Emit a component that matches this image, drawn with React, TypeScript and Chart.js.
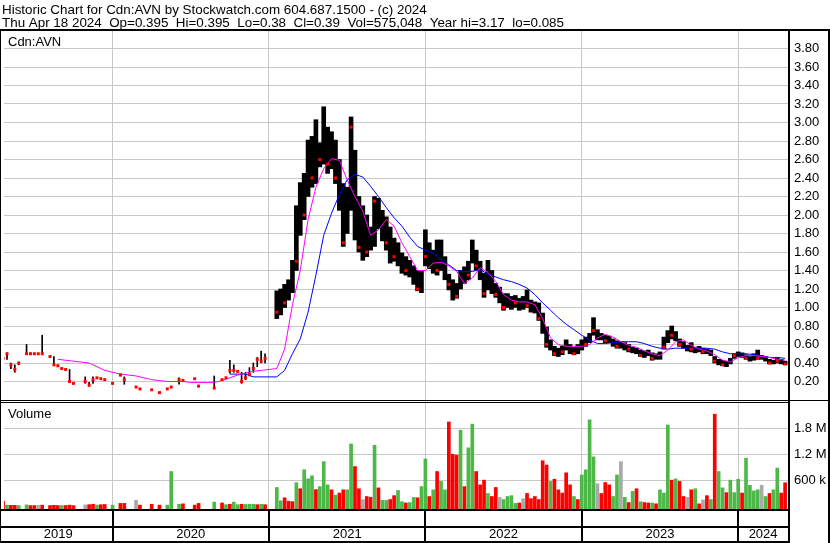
import React, { useEffect, useRef } from 'react';
import { Chart, registerables } from 'chart.js';

Chart.register(...registerables);

// ---------- texts ----------
const TITLE_LINE_1 = 'Historic Chart for Cdn:AVN by Stockwatch.com 604.687.1500 - (c) 2024';
const TITLE_LINE_2 = 'Thu Apr 18 2024  Op=0.395  Hi=0.395  Lo=0.38  Cl=0.39  Vol=575,048  Year hi=3.17  lo=0.085';
const SYMBOL_LABEL = 'Cdn:AVN';
const VOLUME_LABEL = 'Volume';

// ---------- time axis ----------
const X_MIN = 2019.3058;
const X_MAX = 2024.3185;
const FIRST_BAR_YEAR = 2019.3;
const BAR_STEP_YEARS = 0.025;
const MA_STEP_YEARS = 0.05;
const YEAR_BOUNDARIES = [2020, 2021, 2022, 2023, 2024];
const YEAR_LABELS = ['2019', '2020', '2021', '2022', '2023', '2024'];
// bars before this index are thinly traded (single-day ticks), after it the trading is dense
const DENSE_TRADING_FROM = 70;

// ---------- value axes ----------
const PRICE_TICKS = [0.2, 0.4, 0.6, 0.8, 1.0, 1.2, 1.4, 1.6, 1.8, 2.0, 2.2, 2.4, 2.6, 2.8, 3.0, 3.2, 3.4, 3.6, 3.8];
const VOLUME_TICKS_K = [600, 1200, 1800];

// ---------- price bars (high / low / close tick) ----------
const PRICE_HIGH = [
  0.50, 0.51, 0.40, 0.38, 0.41, null, 0.60, 0.51, 0.50, 0.50,
  0.70, null, 0.47, 0.47, 0.38, 0.34, 0.33, 0.33, 0.18, null,
  null, 0.25, 0.19, 0.25, 0.24, 0.23, 0.22, null, 0.18, null,
  0.28, 0.25, null, null, 0.14, 0.12, null, null, 0.11, null,
  0.08, null, 0.12, 0.14, null, 0.24, 0.22, null, null, 0.23,
  0.16, null, null, null, 0.26, null, 0.22, 0.24, 0.43, 0.38,
  0.32, 0.30, 0.30, 0.35, 0.40, 0.46, 0.53, 0.50, null, null,
  1.18, 1.20, 1.25, 1.30, 1.51, 2.10, 2.35, 2.45, 2.81, 2.85,
  3.03, 2.78, 3.17, 2.95, 2.90, 2.81, 2.60, 2.34, 2.30, 3.06,
  2.70, 2.20, 2.10, 2.00, 1.87, 2.20, 2.18, 2.05, 1.98, 1.87,
  1.75, 1.70, 1.59, 1.55, 1.51, 1.45, 1.40, 1.40, 1.84, 1.70,
  1.62, 1.73, 1.73, 1.55, 1.36, 1.30, 1.26, 1.40, 1.44, 1.50,
  1.73, 1.62, 1.50, 1.37, 1.51, 1.40, 1.26, 1.22, 1.15, 1.15,
  1.12, 1.13, 1.10, 1.12, 1.19, 1.08, 1.06, 1.05, 0.94, 0.79,
  0.65, 0.58, 0.56, 0.58, 0.65, 0.60, 0.57, 0.60, 0.65, 0.68,
  0.72, 0.89, 0.76, 0.72, 0.70, 0.69, 0.66, 0.64, 0.63, 0.62,
  0.60, 0.57, 0.56, 0.54, 0.53, 0.54, 0.51, 0.50, 0.52, 0.68,
  0.75, 0.80, 0.74, 0.66, 0.63, 0.59, 0.62, 0.57, 0.58, 0.56,
  0.55, 0.54, 0.47, 0.44, 0.43, 0.42, 0.45, 0.50, 0.52, 0.51,
  0.49, 0.47, 0.50, 0.54, 0.48, 0.47, 0.44, 0.43, 0.46, 0.44,
  0.42,
];

const PRICE_LOW = [
  0.40, 0.44, 0.34, 0.30, 0.38, null, 0.50, 0.50, 0.50, 0.50,
  0.50, null, 0.47, 0.38, 0.37, 0.34, 0.33, 0.19, 0.18, null,
  null, 0.18, 0.15, 0.18, 0.24, 0.23, 0.22, null, 0.18, null,
  0.26, 0.17, null, null, 0.14, 0.12, null, null, 0.11, null,
  0.08, null, 0.12, 0.14, null, 0.17, 0.20, null, null, 0.23,
  0.15, null, null, null, 0.12, null, 0.22, 0.24, 0.29, 0.30,
  0.30, 0.18, 0.22, 0.26, 0.30, 0.36, 0.40, 0.40, null, null,
  0.88, 0.92, 1.00, 1.08, 1.16, 1.40, 1.78, 1.95, 2.20, 2.30,
  2.34, 2.52, 2.55, 2.45, 2.50, 2.34, 2.05, 1.66, 1.80, 2.05,
  1.73, 1.60, 1.51, 1.55, 1.62, 1.66, 1.85, 1.72, 1.62, 1.48,
  1.50, 1.45, 1.37, 1.35, 1.33, 1.25, 1.18, 1.16, 1.45, 1.42,
  1.37, 1.35, 1.40, 1.30, 1.19, 1.08, 1.10, 1.20, 1.26, 1.30,
  1.48, 1.40, 1.30, 1.11, 1.19, 1.15, 1.11, 1.05, 0.97, 1.00,
  0.98, 1.00, 0.97, 0.98, 1.00, 0.95, 0.94, 0.86, 0.72, 0.57,
  0.54, 0.48, 0.47, 0.49, 0.54, 0.50, 0.49, 0.50, 0.54, 0.58,
  0.62, 0.70, 0.65, 0.65, 0.62, 0.62, 0.58, 0.56, 0.56, 0.54,
  0.52, 0.51, 0.50, 0.47, 0.46, 0.48, 0.43, 0.44, 0.44, 0.55,
  0.62, 0.66, 0.64, 0.58, 0.56, 0.53, 0.52, 0.51, 0.52, 0.50,
  0.50, 0.48, 0.40, 0.38, 0.37, 0.36, 0.39, 0.45, 0.47, 0.46,
  0.44, 0.42, 0.43, 0.44, 0.44, 0.42, 0.39, 0.39, 0.40, 0.39,
  0.38,
];

const PRICE_CLOSE = [
  0.45, 0.50, 0.38, 0.33, 0.40, null, 0.50, 0.50, 0.50, 0.50,
  0.50, null, 0.47, 0.38, 0.37, 0.34, 0.33, 0.20, 0.18, null,
  null, 0.20, 0.16, 0.22, 0.24, 0.23, 0.22, null, 0.18, null,
  0.27, 0.22, null, null, 0.14, 0.12, null, null, 0.11, null,
  0.08, null, 0.12, 0.14, null, 0.22, 0.21, null, null, 0.23,
  0.15, null, null, null, 0.13, null, 0.22, 0.24, 0.32, 0.32,
  0.31, 0.20, 0.24, 0.28, 0.34, 0.44, 0.42, 0.45, null, null,
  0.95, null, 1.05, null, null, 1.50, null, 2.00, null, 2.40,
  null, 2.60, null, 2.55, null, 2.40, null, 1.70, null, 2.95,
  null, 1.65, null, 1.60, null, 2.15, null, null, 1.70, null,
  1.55, null, null, 1.40, null, null, 1.20, null, 1.55, null,
  null, 1.40, null, null, 1.25, null, 1.12, null, null, 1.35,
  null, 1.45, null, 1.15, null, null, 1.14, null, 1.00, null,
  null, 1.05, null, null, 1.02, null, null, 0.88, null, 0.60,
  null, 0.50, null, 0.52, null, null, 0.50, null, null, 0.60,
  null, 0.75, null, null, 0.64, null, null, 0.58, null, null,
  0.55, null, null, 0.48, null, null, 0.45, null, null, 0.57,
  null, 0.70, null, 0.60, null, null, 0.55, null, null, 0.52,
  null, null, 0.42, null, 0.38, null, null, 0.48, null, null,
  0.45, null, null, 0.45, null, null, 0.40, null, 0.42, null,
  0.39,
];

// ---------- volume (thousands of shares) and direction ----------
const VOLUME_K = [
  106, 20, 15, 15, 10, null, 25, 10, 10, 15,
  20, null, 10, 15, 10, 10, 10, 20, 10, null,
  null, 25, 30, 40, 20, 30, 35, null, 20, null,
  60, 60, null, null, 130, 20, null, null, 40, null,
  20, null, 20, 800, null, 40, 50, null, null, 20,
  60, null, null, null, 90, null, 70, 30, 40, 90,
  30, 40, 35, 40, 40, 30, 40, 30, null, null,
  430, 120, 190, 110, 100, 540, 400, 840, 630, 700,
  380, 450, 1030, 490, 375, 250, 300, 375, 375, 1440,
  915, 400, 145, 220, 200, 1410, 420, 130, 130, 150,
  240, 360, 100, 70, 80, 200, 190, 450, 1090, 220,
  375, 800, 570, 375, 1950, 1200, 1180, 1760, 450, 1350,
  1900, 800, 490, 600, 290, 220, 430, 200, 150, 220,
  240, 60, 70, 170, 290, 170, 220, 150, 1050, 950,
  570, 620, 375, 300, 770, 490, 220, 150, 720, 840,
  2000, 1140, 515, 290, 545, 490, 220, 720, 1030, 200,
  80, 340, 400, 100, 80, 70, 70, 50, 375, 300,
  1880, 600, 630, 570, 220, 200, 375, 400, 50, 140,
  240, 150, 2130, 800, 420, 310, 600, 310, 620, 300,
  1110, 480, 350, 375, 480, 220, 290, 375, 880, 300,
  540,
];

// g = up day, r = down day, n = unchanged
const VOLUME_DIR = [
  'r', 'g', 'r', 'r', 'g', null, 'g', 'r', 'r', 'n',
  'r', null, 'r', 'r', 'r', 'g', 'r', 'r', 'r', null,
  null, 'n', 'r', 'r', 'g', 'r', 'r', null, 'g', null,
  'r', 'r', null, null, 'n', 'r', null, null, 'r', null,
  'r', null, 'g', 'g', null, 'g', 'r', null, null, 'r',
  'r', null, null, null, 'g', null, 'r', 'g', 'r', 'g',
  'g', 'r', 'g', 'g', 'g', 'r', 'g', 'r', null, null,
  'g', 'g', 'r', 'r', 'r', 'g', 'r', 'g', 'g', 'g',
  'r', 'g', 'g', 'g', 'r', 'g', 'r', 'r', 'g', 'g',
  'r', 'r', 'n', 'r', 'r', 'g', 'r', 'g', 'g', 'r',
  'r', 'g', 'g', 'r', 'g', 'g', 'r', 'g', 'g', 'r',
  'g', 'r', 'g', 'g', 'r', 'r', 'r', 'g', 'r', 'g',
  'g', 'r', 'r', 'r', 'g', 'r', 'r', 'n', 'g', 'g',
  'g', 'g', 'r', 'n', 'r', 'r', 'r', 'r', 'r', 'r',
  'g', 'r', 'r', 'r', 'r', 'r', 'g', 'r', 'g', 'g',
  'g', 'g', 'n', 'r', 'r', 'r', 'g', 'g', 'n', 'g',
  'r', 'g', 'r', 'g', 'r', 'r', 'g', 'r', 'g', 'g',
  'g', 'r', 'g', 'r', 'r', 'n', 'r', 'g', 'r', 'n',
  'r', 'g', 'r', 'g', 'g', 'r', 'g', 'g', 'g', 'r',
  'g', 'g', 'g', 'g', 'n', 'g', 'r', 'g', 'g', 'r',
  'r',
];

// ---------- moving averages (sampled every MA_STEP_YEARS) ----------
const MA_SHORT = [
  null, null, null, null, null, null, null, 0.44, 0.43, 0.42,
  0.41, 0.40, 0.36, 0.32, 0.30, 0.28, 0.27, 0.26, 0.24, 0.22,
  0.21, 0.20, 0.20, 0.20, 0.19, 0.19, 0.19, 0.19, 0.21, 0.24,
  0.27, 0.29, 0.31, 0.32, 0.33, 0.34, 0.55, 1.03, 1.40, 1.95,
  2.30, 2.50, 2.61, 2.59, 2.38, 2.20, 2.04, 1.78, 1.84, 1.95,
  1.88, 1.70, 1.55, 1.40, 1.40, 1.48, 1.49, 1.45, 1.39, 1.26,
  1.32, 1.43, 1.38, 1.28, 1.14, 1.08, 1.06, 1.06, 1.03, 0.88,
  0.67, 0.60, 0.58, 0.58, 0.58, 0.60, 0.67, 0.71, 0.68, 0.63,
  0.59, 0.57, 0.53, 0.50, 0.48, 0.54, 0.63, 0.65, 0.59, 0.55,
  0.53, 0.49, 0.43, 0.41, 0.46, 0.48, 0.48, 0.47, 0.46, 0.44,
  0.43,
];

const MA_LONG = [
  null, null, null, null, null, null, null, null, null, null,
  null, null, null, null, null, null, null, null, null, null,
  null, null, null, null, null, null, null, null, null, 0.28,
  0.28, 0.28, 0.25, 0.25, 0.25, 0.25, 0.32, 0.50, 0.66, 0.95,
  1.35, 1.78, 2.02, 2.22, 2.38, 2.44, 2.41, 2.31, 2.20, 2.08,
  1.97, 1.88, 1.76, 1.66, 1.62, 1.59, 1.52, 1.46, 1.40, 1.39,
  1.39, 1.41, 1.36, 1.33, 1.30, 1.28, 1.25, 1.21, 1.14, 1.05,
  0.97, 0.89, 0.82, 0.76, 0.70, 0.65, 0.61, 0.61, 0.62, 0.63,
  0.63, 0.63, 0.61, 0.58, 0.56, 0.55, 0.56, 0.56, 0.56, 0.56,
  0.56, 0.55, 0.52, 0.50, 0.50, 0.50, 0.49, 0.48, 0.46, 0.46,
  0.45,
];

// ---------- styling ----------
const FONT_FAMILY = '"Liberation Sans", Arial, Helvetica, sans-serif';
const FONT = `13px ${FONT_FAMILY}`;
const HEADER_FONT = `13.4px ${FONT_FAMILY}`;
const GRID_COLOR = '#c8c8c8';
const DIR_COLORS: Record<string, string> = { g: '#4db848', r: '#ff0000', n: '#a9a9a9' };
const VOLUME_MIN_K = -70;
const VOLUME_MAX_K = 2460;

const barYear = (i: number) => FIRST_BAR_YEAR + i * BAR_STEP_YEARS;
const maYear = (j: number) => FIRST_BAR_YEAR + j * MA_STEP_YEARS;

function buildData() {
  const thinBars: { x: number; y: [number, number] }[] = [];
  const denseBars: { x: number; y: [number, number] }[] = [];
  PRICE_HIGH.forEach((h, i) => {
    const l = PRICE_LOW[i];
    if (h == null || l == null) return;
    (i < DENSE_TRADING_FROM ? thinBars : denseBars).push({ x: barYear(i), y: [l, h] });
  });
  const closes: { x: number; y: number }[] = [];
  PRICE_CLOSE.forEach((c, i) => {
    if (c != null) closes.push({ x: barYear(i), y: c });
  });
  const vol: { x: number; y: number }[] = [];
  const volColors: string[] = [];
  VOLUME_K.forEach((v, i) => {
    const d = VOLUME_DIR[i];
    if (v != null && d != null) {
      vol.push({ x: barYear(i), y: v });
      volColors.push(DIR_COLORS[d]);
    }
  });
  const toLine = (arr: (number | null)[]) => {
    const out: { x: number; y: number }[] = [];
    arr.forEach((v, j) => {
      if (v != null) out.push({ x: maYear(j), y: v });
    });
    return out;
  };
  return { thinBars, denseBars, closes, vol, volColors, maShort: toLine(MA_SHORT), maLong: toLine(MA_LONG) };
}

const framePlugin = {
  id: 'stockwatchFrame',
  beforeDraw(chart: any) {
    const { ctx, width, height } = chart;
    ctx.save();
    ctx.fillStyle = '#ffffff';
    ctx.fillRect(0, 0, width, height);
    ctx.restore();
  },
  afterDraw(chart: any) {
    const { ctx, chartArea: a, scales } = chart;
    const W = chart.width;
    const H = chart.height;
    const xs = scales.x;
    const yp = scales.y;
    const yv = scales.yv;
    ctx.save();
    ctx.fillStyle = '#000';
    ctx.textBaseline = 'alphabetic';
    ctx.textAlign = 'left';
    ctx.font = HEADER_FONT;
    ctx.fillText(TITLE_LINE_1, 2, 14);
    ctx.fillText(TITLE_LINE_2, 2, 27);
    ctx.font = FONT;

    const top = Math.round(a.top) - 1;
    const right = Math.round(a.right);
    ctx.fillRect(0, top, W, 2);
    ctx.fillRect(0, top, 1, H - top);
    ctx.fillRect(right, top, 2, H - top);
    ctx.fillRect(W - 2, top, 2, H - top);

    const sep = Math.round(yp.bottom);
    ctx.fillRect(0, sep, right, 1);
    ctx.fillRect(0, sep + 2, right, 1);
    ctx.fillRect(right, sep, W - right, 1);

    const vb = Math.round(yv.bottom);
    ctx.fillRect(0, vb, right, 2);
    ctx.fillRect(0, vb + 17, right, 2);
    ctx.fillRect(0, H - 2, right, 2);

    YEAR_BOUNDARIES.forEach((b) => {
      const px = Math.round(xs.getPixelForValue(b));
      ctx.fillRect(px - 1, vb, 2, H - vb);
    });

    const edges = [X_MIN, ...YEAR_BOUNDARIES, X_MAX].map((v) => xs.getPixelForValue(v));
    ctx.textAlign = 'center';
    YEAR_LABELS.forEach((lab, k) => {
      const cx = (edges[k] + edges[k + 1]) / 2;
      ctx.fillText(lab, cx, H - 5);
    });

    ctx.textAlign = 'left';
    ctx.fillText(SYMBOL_LABEL, 8, a.top + 16);
    ctx.fillText(VOLUME_LABEL, 8, yv.top + 18);
    ctx.restore();
  },
};

export default function App() {
  const ref = useRef<HTMLCanvasElement>(null);
  useEffect(() => {
    const canvas = ref.current;
    if (!canvas) return;
    const d = buildData();
    const tickFont = { family: FONT_FAMILY, size: 13 };
    const chart = new Chart(canvas, {
      type: 'bar',
      data: {
        datasets: [
          {
            type: 'line',
            label: 'close',
            data: d.closes,
            showLine: false,
            pointStyle: 'rect',
            pointRadius: 2.1,
            pointBorderWidth: 0,
            pointBackgroundColor: '#ff0000',
            borderColor: '#ff0000',
            yAxisID: 'y',
            order: 0,
          } as any,
          {
            type: 'line',
            label: 'ma short',
            data: d.maShort,
            borderColor: '#ff00ff',
            borderWidth: 1,
            pointRadius: 0,
            tension: 0,
            yAxisID: 'y',
            order: 1,
          } as any,
          {
            type: 'line',
            label: 'ma long',
            data: d.maLong,
            borderColor: '#0000ff',
            borderWidth: 1,
            pointRadius: 0,
            tension: 0,
            yAxisID: 'y',
            order: 2,
          } as any,
          {
            type: 'bar',
            label: 'price (thin trading)',
            data: d.thinBars,
            backgroundColor: '#000000',
            barThickness: 1,
            grouped: false,
            yAxisID: 'y',
            order: 3,
          } as any,
          {
            type: 'bar',
            label: 'price',
            data: d.denseBars,
            backgroundColor: '#000000',
            barThickness: 4,
            grouped: false,
            yAxisID: 'y',
            order: 3,
          } as any,
          {
            type: 'bar',
            label: 'volume',
            data: d.vol,
            backgroundColor: d.volColors,
            barThickness: 3,
            grouped: false,
            base: VOLUME_MIN_K,
            yAxisID: 'yv',
            order: 4,
          } as any,
        ],
      },
      options: {
        responsive: false,
        animation: false,
        devicePixelRatio: 1,
        layout: { padding: { top: 30, left: 1, right: 0, bottom: 34 } },
        plugins: { legend: { display: false }, tooltip: { enabled: false }, title: { display: false } },
        scales: {
          x: {
            type: 'linear',
            min: X_MIN,
            max: X_MAX,
            offset: false,
            grid: { color: GRID_COLOR, drawTicks: false, offset: false },
            border: { display: false },
            ticks: { display: false },
            afterBuildTicks: (s: any) => {
              s.ticks = YEAR_BOUNDARIES.map((v) => ({ value: v }));
            },
            afterFit: (s: any) => {
              s.height = 0;
            },
          },
          y: {
            type: 'linear',
            position: 'right',
            stack: 'panes',
            stackWeight: 370,
            min: 0,
            max: 4,
            grid: { color: GRID_COLOR, drawTicks: false },
            border: { display: false },
            ticks: {
              autoSkip: false,
              padding: 6,
              color: '#000',
              font: tickFont,
              callback: (v: any) => Number(v).toFixed(2),
            },
            afterBuildTicks: (s: any) => {
              s.ticks = PRICE_TICKS.map((v) => ({ value: v }));
            },
            afterFit: (s: any) => {
              s.width = 42;
            },
          },
          yv: {
            type: 'linear',
            position: 'right',
            stack: 'panes',
            stackWeight: 109,
            min: VOLUME_MIN_K,
            max: VOLUME_MAX_K,
            grid: { color: GRID_COLOR, drawTicks: false },
            border: { display: false },
            ticks: {
              autoSkip: false,
              padding: 6,
              color: '#000',
              font: tickFont,
              callback: (v: any) => (Number(v) >= 1000 ? `${(Number(v) / 1000).toFixed(1)} M` : `${v} k`),
            },
            afterBuildTicks: (s: any) => {
              s.ticks = VOLUME_TICKS_K.map((v) => ({ value: v }));
            },
            afterFit: (s: any) => {
              s.width = 42;
            },
          },
        },
      } as any,
      plugins: [framePlugin],
    });
    return () => chart.destroy();
  }, []);
  return (
    <div style={{ position: 'fixed', left: 0, top: 0, width: 830, height: 543, background: '#fff' }}>
      <canvas ref={ref} width={830} height={543} style={{ display: 'block', width: 830, height: 543 }} />
    </div>
  );
}
